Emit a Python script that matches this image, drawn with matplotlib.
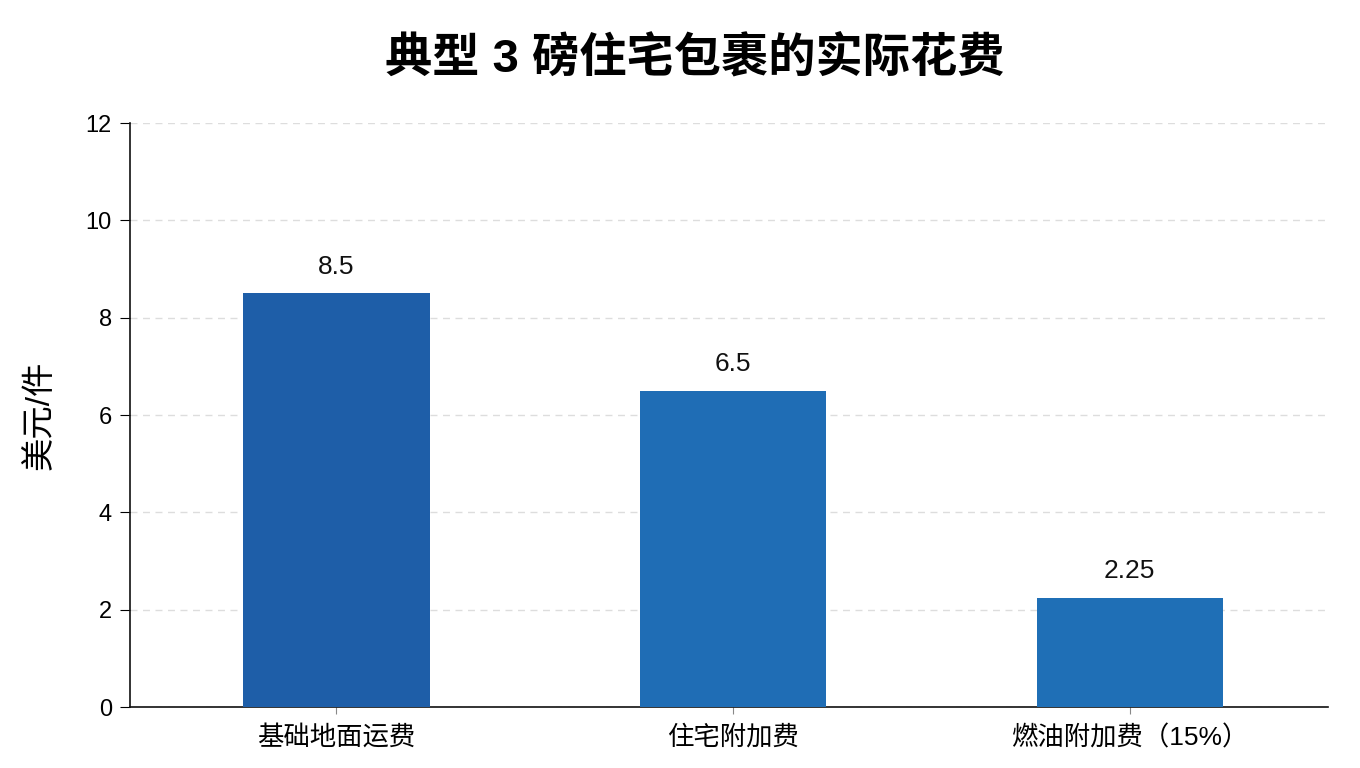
import matplotlib
matplotlib.use("Agg")
import matplotlib.pyplot as plt

plt.rcParams['font.family'] = ['Liberation Sans', 'Noto Sans CJK SC', 'DejaVu Sans']

categories = ["基础地面运费", "住宅附加费", "燃油附加费（15%）"]
values = [8.5, 6.5, 2.25]
value_labels = ["8.5", "6.5", "2.25"]
colors = ["#1E5EA8", "#1F6DB5", "#1F6FB6"]
yticks = [0, 2, 4, 6, 8, 10, 12]
title = "典型 3 磅住宅包裹的实际花费"
ylabel = "美元/件"

fig = plt.figure(figsize=(13.6, 7.68), dpi=100)
ax = fig.add_axes([0.0956, 0.0794, 0.881, 0.7604])

x = list(range(len(categories)))
bars = ax.bar(x, values, width=0.47, color=colors, zorder=3)
for xi, v, lab in zip(x, values, value_labels):
    ax.text(xi, v + 0.3, lab, ha='center', va='bottom', fontsize=19, color='#111111')

ax.set_xlim(-0.52, 2.5)
ax.set_ylim(0, 12)
ax.set_yticks(yticks)
ax.set_yticklabels([str(t) for t in yticks], fontsize=17)
ax.set_xticks(x)
ax.set_xticklabels(categories, fontsize=19)
ax.tick_params(axis='x', length=5, color='#888888', pad=8)
ax.tick_params(axis='y', length=7, pad=6)
ax.yaxis.grid(True, linestyle=(0, (5, 4)), color='#dddddd', linewidth=1, zorder=0)
ax.set_axisbelow(True)
for s in ['top', 'right']:
    ax.spines[s].set_visible(False)
for s in ['left', 'bottom']:
    ax.spines[s].set_linewidth(1.2)
    ax.spines[s].set_color('#111111')

ax.set_ylabel(ylabel, fontsize=24, labelpad=22)
fig.suptitle(title, fontsize=34, fontweight='bold', x=0.511, y=0.924, va='center')

fig.savefig("out.png", dpi=100)
